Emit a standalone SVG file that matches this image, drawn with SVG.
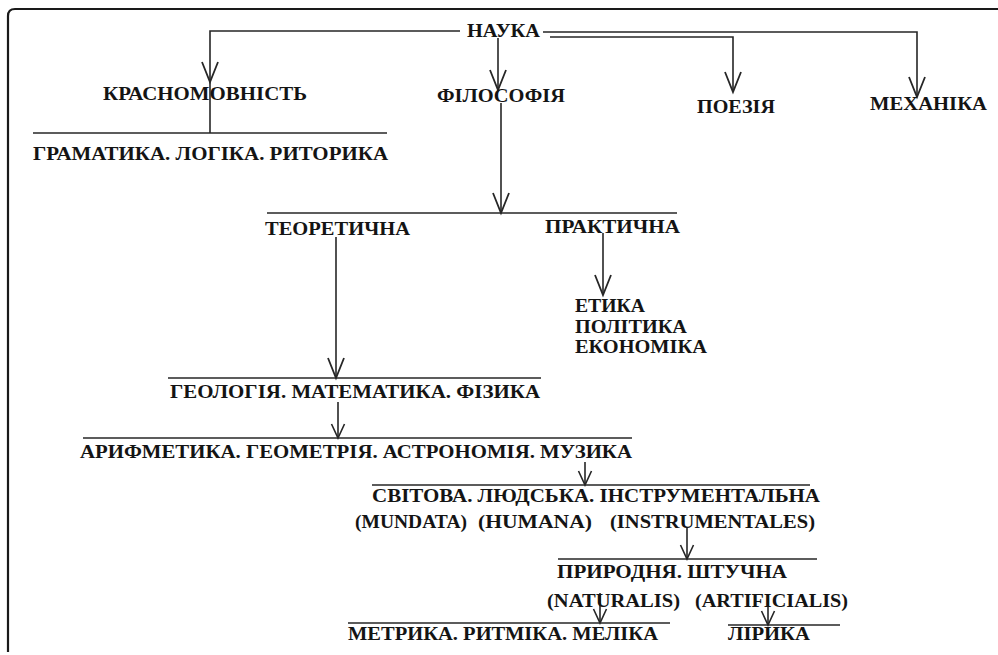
<svg xmlns="http://www.w3.org/2000/svg" width="998" height="655" viewBox="0 0 998 655">
<defs>
<style>
.t{font-family:"Liberation Serif","Times New Roman",serif;font-weight:bold;font-size:18.5px;fill:#141414}
.c{fill:none;stroke:#262626;stroke-width:1.6}
.u{fill:none;stroke:#262626;stroke-width:1.6}
.frame{fill:none;stroke:#1a1a1a;stroke-width:2.2}
</style>
<marker id="ab" markerUnits="userSpaceOnUse" viewBox="-24 -12 26 24" markerWidth="26" markerHeight="24" refX="0" refY="0" orient="auto" overflow="visible">
<path d="M-20,-8 L0,0 L-20,8" fill="none" stroke="#262626" stroke-width="1.8"/>
</marker>
<marker id="as" markerUnits="userSpaceOnUse" viewBox="-16 -10 18 20" markerWidth="18" markerHeight="20" refX="0" refY="0" orient="auto" overflow="visible">
<path d="M-14,-6.5 L0,0 L-14,6.5" fill="none" stroke="#262626" stroke-width="1.6"/>
</marker>
</defs>
<rect width="998" height="655" fill="#ffffff"/>
<path class="frame" d="M8,652 V16 Q8,9 15,9 H998"/>

<g id="connectors">
<path class="c" d="M460,31 H210 V82" marker-end="url(#ab)"/>
<path class="c" d="M210,82 V133"/>
<path class="c" d="M498,38 V90" marker-end="url(#ab)"/>
<path class="c" d="M543,32 H917 V97" marker-end="url(#ab)"/>
<path class="c" d="M550,37 H733 V92" marker-end="url(#ab)"/>
<path class="c" d="M501,103 V213" marker-end="url(#ab)"/>
<path class="c" d="M336,237 V378" marker-end="url(#ab)"/>
<path class="c" d="M603,233 V295" marker-end="url(#ab)"/>
<path class="c" d="M338,402 V438" marker-end="url(#as)"/>
<path class="c" d="M585,462 V485" marker-end="url(#as)"/>
<path class="c" d="M687,528 V559" marker-end="url(#as)"/>
<path class="c" d="M600,593 V623" marker-end="url(#as)"/>
<path class="c" d="M768,595 V625" marker-end="url(#as)"/>
<path class="u" d="M33,133 H387"/>
<path class="u" d="M267,213 H677"/>
<path class="u" d="M168,378 H541"/>
<path class="u" d="M83,438 H632"/>
<path class="u" d="M372,485 H810"/>
<path class="u" d="M558,559 H817"/>
<path class="u" d="M348,623 H670"/>
<path class="u" d="M728,625 H840"/>
</g>

<g id="n-nauka"><text class="t" x="467" y="37" textLength="73" lengthAdjust="spacingAndGlyphs">НАУКА</text></g>
<g id="n-krasnomovnist"><text class="t" x="103" y="100" textLength="204" lengthAdjust="spacingAndGlyphs">КРАСНОМОВНІСТЬ</text></g>
<g id="n-filosofiya"><text class="t" x="437" y="102" textLength="128" lengthAdjust="spacingAndGlyphs">ФІЛОСОФІЯ</text></g>
<g id="n-poeziya"><text class="t" x="697" y="113" textLength="78" lengthAdjust="spacingAndGlyphs">ПОЕЗІЯ</text></g>
<g id="n-mekhanika"><text class="t" x="870" y="110" textLength="117" lengthAdjust="spacingAndGlyphs">МЕХАНІКА</text></g>
<g id="n-gramatyka"><text class="t" x="33" y="160" textLength="355" lengthAdjust="spacingAndGlyphs">ГРАМАТИКА. ЛОГІКА. РИТОРИКА</text></g>
<g id="n-teoretychna"><text class="t" x="265" y="235" textLength="145" lengthAdjust="spacingAndGlyphs">ТЕОРЕТИЧНА</text></g>
<g id="n-praktychna"><text class="t" x="545" y="233" textLength="135" lengthAdjust="spacingAndGlyphs">ПРАКТИЧНА</text></g>
<g id="n-etyka">
<text class="t" x="575" y="312" textLength="70" lengthAdjust="spacingAndGlyphs">ЕТИКА</text>
<text class="t" x="575" y="333" textLength="112" lengthAdjust="spacingAndGlyphs">ПОЛІТИКА</text>
<text class="t" x="575" y="353" textLength="132" lengthAdjust="spacingAndGlyphs">ЕКОНОМІКА</text>
</g>
<g id="n-geologiya"><text class="t" x="170" y="398" textLength="370" lengthAdjust="spacingAndGlyphs">ГЕОЛОГІЯ. МАТЕМАТИКА. ФІЗИКА</text></g>
<g id="n-aryfmetyka"><text class="t" x="80" y="458" textLength="552" lengthAdjust="spacingAndGlyphs">АРИФМЕТИКА. ГЕОМЕТРІЯ. АСТРОНОМІЯ. МУЗИКА</text></g>
<g id="n-svitova">
<text class="t" x="372" y="502" textLength="448" lengthAdjust="spacingAndGlyphs">СВІТОВА. ЛЮДСЬКА. ІНСТРУМЕНТАЛЬНА</text>
<text class="t" x="355" y="528" textLength="112" lengthAdjust="spacingAndGlyphs">(MUNDATA)</text>
<text class="t" x="478" y="528" textLength="114" lengthAdjust="spacingAndGlyphs">(HUMANA)</text>
<text class="t" x="610" y="528" textLength="205" lengthAdjust="spacingAndGlyphs">(INSTRUMENTALES)</text>
</g>
<g id="n-pryrodnya">
<text class="t" x="557" y="578" textLength="230" lengthAdjust="spacingAndGlyphs">ПРИРОДНЯ. ШТУЧНА</text>
<text class="t" x="547" y="607" textLength="133" lengthAdjust="spacingAndGlyphs">(NATURALIS)</text>
<text class="t" x="695" y="607" textLength="153" lengthAdjust="spacingAndGlyphs">(ARTIFICIALIS)</text>
</g>
<g id="n-metryka"><text class="t" x="348" y="640" textLength="310" lengthAdjust="spacingAndGlyphs">МЕТРИКА. РИТМІКА. МЕЛІКА</text></g>
<g id="n-liryka"><text class="t" x="728" y="640" textLength="82" lengthAdjust="spacingAndGlyphs">ЛІРИКА</text></g>
</svg>
